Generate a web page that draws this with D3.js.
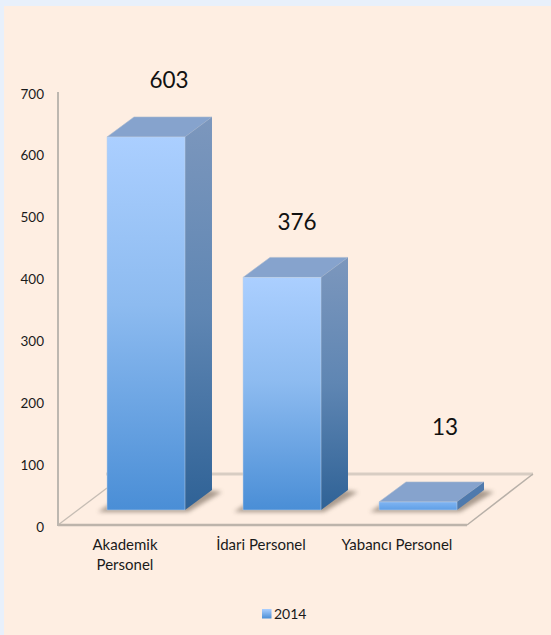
<!DOCTYPE html>
<html><head><meta charset="utf-8">
<script src="https://cdn.jsdelivr.net/npm/d3@7/dist/d3.min.js"></script>
<style>html,body{margin:0;padding:0;background:#e8f0fb}svg{display:block}text{font-family:Lato,"Open Sans",sans-serif}</style>
</head><body><div id="chart"></div>
<script>
const categories = ["Akademik Personel", "İdari Personel", "Yabancı Personel"];
const categoryLines = [["Akademik", "Personel"], ["İdari Personel"], ["Yabancı Personel"]];
const values = [603, 376, 13];
const yTicks = [0, 100, 200, 300, 400, 500, 600, 700];
const seriesName = "2014";

const W = 551, H = 635;
const svg = d3.select("#chart").append("svg").attr("width", W).attr("height", H);
const defs = svg.append("defs");
function grad(id, stops) {
  const g = defs.append("linearGradient").attr("id", id).attr("x1", 0).attr("x2", 0).attr("y1", 0).attr("y2", 1);
  stops.forEach(s => g.append("stop").attr("offset", s[0]).attr("stop-color", s[1]));
}
grad("front", [[0, "#abcfff"], [0.45, "#8dbbf0"], [1, "#4a8ed6"]]);
grad("side", [[0, "#7c97bd"], [0.5, "#5f86b3"], [1, "#2f6296"]]);
grad("frontFlat", [[0, "#7fb4f2"], [1, "#5f9fe6"]]);
grad("legendG", [[0, "#abcfff"], [1, "#4a8ed6"]]);
defs.append("filter").attr("id", "blur").attr("x", "-20%").attr("y", "-50%").attr("width", "140%").attr("height", "200%")
  .append("feGaussianBlur").attr("stdDeviation", 2);

svg.append("rect").attr("x", 4).attr("y", 6).attr("width", W - 4).attr("height", H - 6).attr("fill", "#feeee2");

// scales
const axisX = 58, floorY = 525, topY = 92, floorRight = 467;
const y = d3.scaleLinear().domain([0, 700]).range([floorY, topY]);
const x = d3.scaleBand().domain(categories).range([78, 486]).paddingInner(0.4265).paddingOuter(0.2132);
const depth = { bx: 27, by: 20 };     // bar extrusion
const floorD = { dx: 66, dy: 51 };    // floor extrusion
const barBase = 510;
const h = v => floorY - y(v);
const poly = pts => pts.map(p => p.join(",")).join(" ");
const line = "#c6bdb4";

// floor and walls
const floor = svg.append("g");
floor.append("line").attr("x1", axisX + 48).attr("y1", floorY - floorD.dy).attr("x2", floorRight + floorD.dx).attr("y2", floorY - floorD.dy)
  .attr("stroke", "#d8cdc3").attr("stroke-width", 3);
floor.append("line").attr("x1", axisX).attr("y1", floorY).attr("x2", axisX + 49).attr("y2", floorY - 37)
  .attr("stroke", line).attr("stroke-width", 1.3);
floor.append("line").attr("x1", floorRight).attr("y1", floorY).attr("x2", floorRight + floorD.dx).attr("y2", floorY - floorD.dy)
  .attr("stroke", "#b8b0a8").attr("stroke-width", 1.5);
floor.append("line").attr("x1", axisX).attr("y1", floorY).attr("x2", floorRight).attr("y2", floorY)
  .attr("stroke", "#bdb4ab").attr("stroke-width", 2.5);
floor.append("line").attr("x1", axisX).attr("y1", y(700)).attr("x2", axisX).attr("y2", floorY + 1)
  .attr("stroke", "#bdb7b0").attr("stroke-width", 2);

// axis labels
const yAxis = d3.axisLeft(y).tickValues(yTicks).tickSize(0).tickPadding(14);
const yg = svg.append("g").attr("transform", `translate(${axisX},1)`).call(yAxis);
yg.select(".domain").remove();
yg.selectAll("text").attr("font-size", 13.5).attr("fill", "#1a1a1a").attr("dy", "0.38em")
  .attr("style", "font-family:Lato,sans-serif");

// bars
const bars = svg.selectAll("g.bar").data(values).join("g").attr("class", "bar");
bars.each(function (v, i) {
  const g = d3.select(this);
  const x0 = x(categories[i]), x1 = x0 + x.bandwidth();
  const t = barBase - h(v);
  const flat = h(v) < 30;
  // shadow on the floor
  g.append("polygon").attr("points", poly([[x0 - 9, barBase + 2], [x1 + 3, barBase + 2], [x1 + depth.bx + 10, barBase - depth.by + 2], [x1 + depth.bx - 4, barBase - depth.by], [x0 + 6, barBase - 8]]))
    .attr("fill", "#8d7f72").attr("opacity", 0.75).attr("filter", "url(#blur)");
  // top
  g.append("polygon").attr("points", poly([[x0, t], [x1, t], [x1 + depth.bx, t - depth.by], [x0 + depth.bx, t - depth.by]]))
    .attr("fill", "#86a3cd").attr("stroke", "#a9b8cf").attr("stroke-width", 0.6);
  // side
  g.append("polygon").attr("points", poly([[x1, t], [x1 + depth.bx, t - depth.by], [x1 + depth.bx, barBase - depth.by], [x1, barBase]]))
    .attr("fill", flat ? "#4f7aad" : "url(#side)");
  // front
  g.append("rect").attr("x", x0).attr("y", t).attr("width", x.bandwidth()).attr("height", barBase - t)
    .attr("fill", flat ? "url(#frontFlat)" : "url(#front)").attr("stroke", "#c3d3e6").attr("stroke-width", 0.5);
});

// value labels (placed by hand in the original, so each has its own offset)
const labelShiftX = [23, 15, 27];
const labelShiftY = [49, 47, 67];
svg.selectAll("text.val").data(values).join("text").attr("class", "val")
  .attr("x", (d, i) => x(categories[i]) + x.bandwidth() / 2 + labelShiftX[i])
  .attr("y", (d, i) => barBase - h(d) - labelShiftY[i])
  .attr("text-anchor", "middle").attr("font-size", 22.5).attr("fill", "#111").text(d => d);

// category labels
categoryLines.forEach((ls, i) => {
  const cx = x(categories[i]) + x.bandwidth() / 2 - 21;
  ls.forEach((s, j) => svg.append("text").attr("x", cx).attr("y", 550 + j * 19.5)
    .attr("text-anchor", "middle").attr("font-size", 15).attr("fill", "#1a1a1a").text(s));
});

// legend
svg.append("rect").attr("x", 262).attr("y", 609).attr("width", 9.5).attr("height", 9.5).attr("fill", "url(#legendG)");
svg.append("text").attr("x", 274).attr("y", 619).attr("font-size", 14).attr("fill", "#1a1a1a").text(seriesName);
</script></body></html>
